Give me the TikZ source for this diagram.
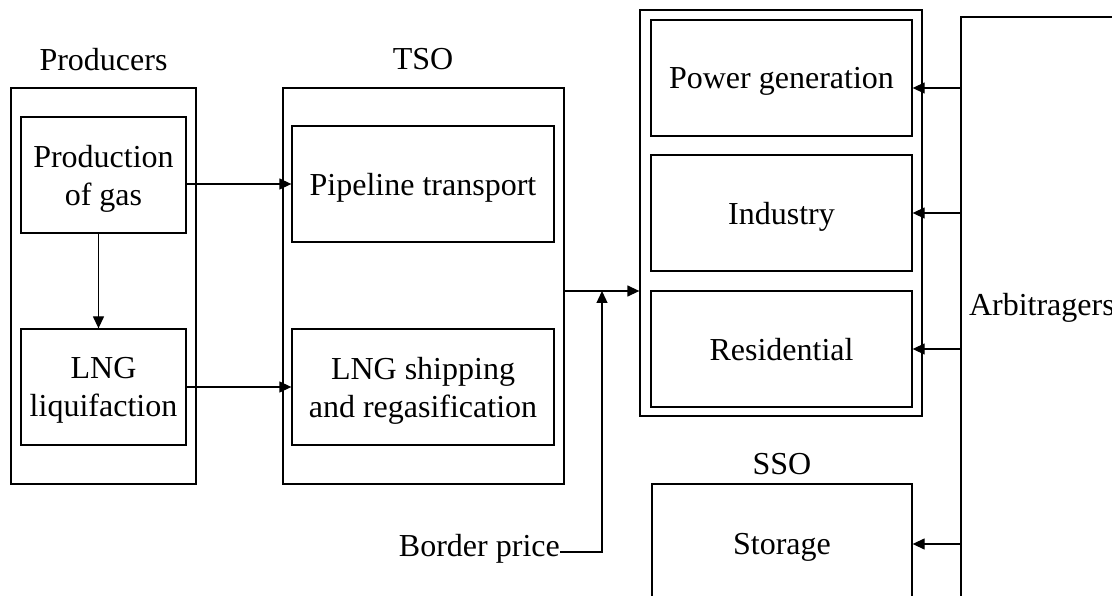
\documentclass[tikz,border=0pt]{standalone}
\usepackage{fontspec}
\setmainfont{Liberation Serif}
\usetikzlibrary{arrows.meta}
\begin{document}
\begin{tikzpicture}[x=1pt,y=-1pt,
  font=\fontsize{32}{38}\selectfont,
  box/.style={draw, line width=1.3pt, rectangle, inner sep=0pt, align=center, text depth=0pt},
  lbl/.style={inner sep=0pt, text depth=0pt},
  arr/.style={line width=1.3pt, -{Triangle[length=12pt,width=11pt]}},
  ln/.style={line width=1.3pt}]
\useasboundingbox (0,0) rectangle (1112,596);
\clip (0,0) rectangle (1112,596);
% Producers
\node[box, minimum width=185pt, minimum height=396pt] (prodgrp) at (103.5,286) {};
\node[box, minimum width=165pt, minimum height=116pt] (prod) at (103.5,175) {Production\\of gas};
\node[box, minimum width=165pt, minimum height=116pt] (lng) at (103.5,387) {LNG\\liquifaction};
\node[lbl] (lprod) at (103.5,59) {Producers};
% TSO
\node[box, minimum width=281pt, minimum height=396pt] (tso) at (423.5,286) {};
\node[box, minimum width=262pt, minimum height=116pt] (pipe) at (423,184) {Pipeline transport};
\node[box, minimum width=262pt, minimum height=116pt] (lngs) at (423,387) {LNG shipping\\and regasification};
\node[lbl] (ltso) at (423,59) {TSO};
% Consumers
\node[box, minimum width=282pt, minimum height=406pt] (cons) at (781,213) {};
\node[box, minimum width=261pt, minimum height=116pt] (pg) at (781.5,78) {Power generation};
\node[box, minimum width=261pt, minimum height=116pt] (ind) at (781.5,213) {Industry};
\node[box, minimum width=261pt, minimum height=116pt] (res) at (781.5,349) {Residential};
% SSO
\node[box, minimum width=260pt, minimum height=120pt] (sto) at (782,544) {Storage};
\node[lbl] (lsso) at (782,464) {SSO};
% Arbitragers
\node[box, minimum width=300pt, minimum height=640pt, text width=284pt, align=left, inner xsep=8pt, text depth=66pt] (arb) at (1111,337) {Arbitragers};
% Border price
\node[anchor=base east, inner sep=0pt] (bp) at (560,556) {Border price};
\coordinate (j) at (602,291);
% connectors
\draw[arr] ([xshift=-5pt]prod.south) -- ([xshift=-5pt]lng.north);
\draw[arr] (prod.east |- pipe.west) -- (pipe.west);
\draw[arr] (lng.east |- lngs.west) -- (lngs.west);
\draw[arr] (tso.east |- j) -- (cons.west |- j);
\draw[arr] ([yshift=4pt]bp.base east) -| (j);
\draw[arr] (arb.west |- 0,88) -- (pg.east |- 0,88);
\draw[arr] (arb.west |- ind.east) -- (ind.east);
\draw[arr] (arb.west |- res.east) -- (res.east);
\draw[arr] (arb.west |- sto.east) -- (sto.east);
\end{tikzpicture}
\end{document}
